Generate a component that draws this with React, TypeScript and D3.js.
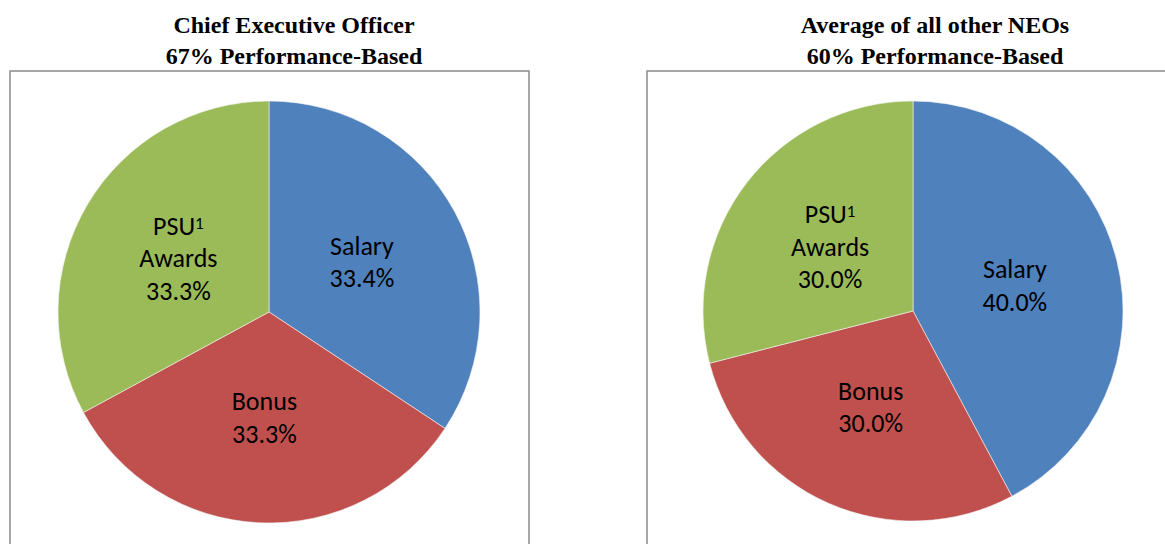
import React from "react";
import * as d3 from "d3";

const categories = ["Salary", "Bonus", "PSU Awards"];
// slice sizes as drawn in the picture
const ceoShares = [34.3, 32.8, 32.9];
const neoShares = [42.2, 28.8, 29.0];
// percentages printed on the slices
const ceoLabels = ["33.4%", "33.3%", "33.3%"];
const neoLabels = ["40.0%", "30.0%", "30.0%"];
const ceoTitle = ["Chief Executive Officer", "67% Performance-Based"];
const neoTitle = ["Average of all other NEOs", "60% Performance-Based"];
const colors = ["#4F81BD", "#C0504D", "#9BBB59"];

const W = 1165;
const H = 544;

type PieProps = {
  values: number[];
  labels: string[];
  title: string[];
  titleX: number;
  boxX: number;
  boxW: number;
  cx: number;
  cy: number;
  r: number;
};

function Pie({ values, labels, title, titleX, boxX, boxW, cx, cy, r }: PieProps) {
  const data = values.map((v, i) => ({ v, name: categories[i], label: labels[i], i }));
  const pie = d3.pie<any>().value((d) => d.v).sort(null);
  const arcs = pie(data);
  const arc = d3.arc<any>().innerRadius(0).outerRadius(r);
  const labelR = r * 0.5;
  const labelArc = d3.arc<any>().innerRadius(labelR).outerRadius(labelR);
  const lh = 32.5;
  const serif = "'Liberation Serif', 'Times New Roman', serif";
  const sans = "Carlito, Calibri, 'Open Sans', Lato, sans-serif";
  return (
    <g>
      <text x={titleX} y={33} textAnchor="middle" fontFamily={serif} fontWeight="bold" fontSize={24} fill="#000">
        {title[0]}
      </text>
      <text x={titleX} y={64} textAnchor="middle" fontFamily={serif} fontWeight="bold" fontSize={24} fill="#000">
        {title[1]}
      </text>
      <rect x={boxX} y={71} width={boxW} height={H} fill="#fff" stroke="#8a8a8a" strokeWidth={1.5} />
      <g transform={`translate(${cx},${cy})`}>
        {arcs.map((a, i) => (
          <path key={i} d={arc(a) as string} fill={colors[i]} stroke="#f4f4f4" strokeWidth={0.6} />
        ))}
        {arcs.map((a, i) => {
          const [lx, ly] = labelArc.centroid(a);
          const pct = a.data.label;
          const lines: React.ReactNode[] =
            i === 2
              ? [
                  <tspan key="a">
                    PSU<tspan fontSize={17} dy={-6}>1</tspan>
                  </tspan>,
                  "Awards",
                  pct,
                ]
              : [a.data.name, pct];
          const n = lines.length;
          return (
            <g key={"l" + i}>
              {lines.map((ln, k) => (
                <text
                  key={k}
                  x={lx}
                  y={ly + (k - (n - 1) / 2) * lh + 9}
                  textAnchor="middle"
                  fontFamily={sans}
                  fontSize={26}
                  fill="#000"
                >
                  {ln}
                </text>
              ))}
            </g>
          );
        })}
      </g>
    </g>
  );
}

export default function App() {
  return (
    <div style={{ position: "absolute", left: 0, top: 0 }}>
      <svg width={W} height={H} style={{ display: "block", background: "#fff" }}>
        <Pie values={ceoShares} labels={ceoLabels} title={ceoTitle} titleX={294} boxX={10} boxW={519} cx={269} cy={312} r={211} />
        <Pie values={neoShares} labels={neoLabels} title={neoTitle} titleX={935} boxX={647} boxW={530} cx={913} cy={311} r={210} />
      </svg>
    </div>
  );
}
